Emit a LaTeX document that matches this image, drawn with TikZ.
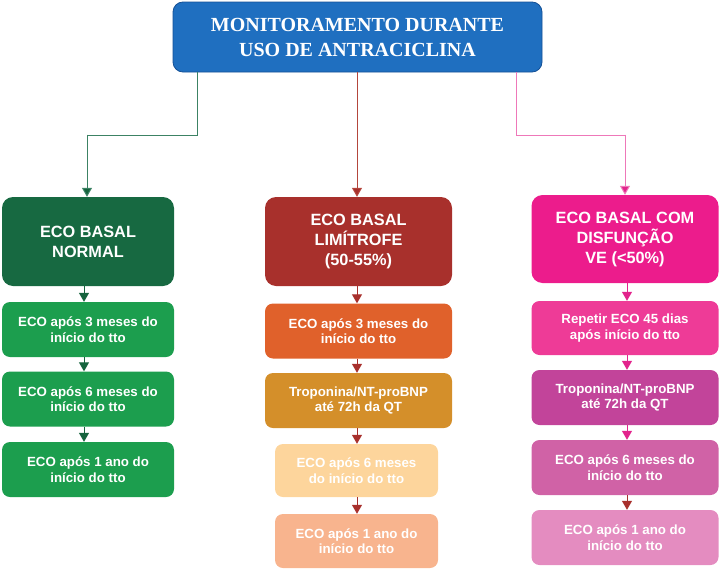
\documentclass[tikz,border=0pt]{standalone}
\usepackage{fontspec}
\setmainfont{Liberation Sans}
\newfontfamily\titlefont{Liberation Serif}
\usetikzlibrary{arrows.meta}
\definecolor{topblue}{RGB}{31,111,192}
\definecolor{topborder}{RGB}{20,80,150}
\definecolor{ghead}{RGB}{23,105,65}
\definecolor{gbox}{RGB}{28,158,78}
\definecolor{garrow}{RGB}{22,100,62}
\definecolor{gline}{RGB}{60,130,100}
\definecolor{rhead}{RGB}{168,48,44}
\definecolor{rbox1}{RGB}{224,97,43}
\definecolor{rbox2}{RGB}{212,143,42}
\definecolor{rbox3}{RGB}{253,213,156}
\definecolor{rbox4}{RGB}{248,180,142}
\definecolor{rarrow}{RGB}{168,48,44}
\definecolor{rline}{RGB}{180,70,60}
\definecolor{phead}{RGB}{236,28,140}
\definecolor{pbox1}{RGB}{238,59,151}
\definecolor{pbox2}{RGB}{194,68,154}
\definecolor{pbox3}{RGB}{208,98,166}
\definecolor{pbox4}{RGB}{228,140,192}
\definecolor{parrow}{RGB}{226,35,140}
\definecolor{pline}{RGB}{238,120,185}
\tikzset{
  x=1pt,y=-1pt,
  titlebox/.style={rounded corners=10pt, fill=topblue, draw=topborder, line width=0.8pt,
    minimum width=369pt, minimum height=70pt, align=center, text=white,
    font=\titlefont\bfseries\fontsize{20}{25}\selectfont},
  headbox/.style={rounded corners=11pt, minimum height=89pt, align=center, text=white,
    font=\bfseries\fontsize{16.3}{20}\selectfont, inner sep=0pt},
  smallbox/.style={rounded corners=8pt, minimum height=55pt, align=center, text=white,
    font=\bfseries\fontsize{13.3}{15.5}\selectfont, inner sep=0pt},
  conn/.style={line width=1pt},
  tip/.style={-{Triangle[width=10pt,length=9pt]}, line width=1pt},
}
\begin{document}
\begin{tikzpicture}
\useasboundingbox (0,0) rectangle (720,570);
% title
\node[titlebox] (top) at (357.5,37) {MONITORAMENTO DURANTE\\USO DE ANTRACICLINA};
% left column
\node[headbox, fill=ghead, minimum width=172pt] (lh) at (88,241.5) {ECO BASAL\\NORMAL};
\node[smallbox, fill=gbox, minimum width=172pt] (l1) at (88,329.5) {ECO após 3 meses do\\início do tto};
\node[smallbox, fill=gbox, minimum width=172pt] (l2) at (88,399) {ECO após 6 meses do\\início do tto};
\node[smallbox, fill=gbox, minimum width=172pt] (l3) at (88,469.5) {ECO após 1 ano do\\início do tto};
% middle column
\node[headbox, fill=rhead, minimum width=187pt] (mh) at (358.5,241.5) {ECO BASAL\\LIMÍTROFE\\(50-55\%)};
\node[smallbox, fill=rbox1, minimum width=187pt] (m1) at (358.5,331) {ECO após 3 meses do\\início do tto};
\node[smallbox, fill=rbox2, minimum width=187pt] (m2) at (358.5,400.5) {Troponina/NT-proBNP\\até 72h da QT};
\node[smallbox, fill=rbox3, minimum width=163pt, minimum height=53pt] (m3) at (356.5,470.5) {ECO após 6 meses\\do início do tto};
\node[smallbox, fill=rbox4, minimum width=163pt, minimum height=54pt] (m4) at (356.5,541) {ECO após 1 ano do\\início do tto};
% right column
\node[headbox, fill=phead, minimum width=187pt, minimum height=88pt] (rh) at (625,239) {ECO BASAL COM\\DISFUNÇÃO\\VE (<50\%)};
\node[smallbox, fill=pbox1, minimum width=187pt, minimum height=54pt] (r1) at (625,328) {Repetir ECO 45 dias\\após início do tto};
\node[smallbox, fill=pbox2, minimum width=187pt] (r2) at (625,397.5) {Troponina/NT-proBNP\\até 72h da QT};
\node[smallbox, fill=pbox3, minimum width=187pt] (r3) at (625,467.5) {ECO após 6 meses do\\início do tto};
\node[smallbox, fill=pbox4, minimum width=187pt] (r4) at (625,537.5) {ECO após 1 ano do\\início do tto};
% connectors from title
\coordinate (tl) at (197,72);
\coordinate (tr) at (516,72);
\draw[gline, conn] (tl) |- (87,135);
\draw[gline, line width=1pt, -{Triangle[width=10pt,length=9pt,fill=garrow]}] (87,134.5) -- (lh.north -| 87,0);
\draw[rline, line width=1pt, -{Triangle[width=10pt,length=9pt,fill=rarrow]}] (top.south -| 357,0) -- (mh.north -| 357,0);
\draw[pline, conn] (tr) |- (625,135);
\draw[pline, line width=1pt, -{Triangle[width=10pt,length=9pt,fill=parrow]}] (625,134.5) -- (rh.north);
% column arrows
\draw[garrow, tip] (lh.south -| 84,0) -- (l1.north -| 84,0);
\draw[garrow, tip] (l1.south -| 84,0) -- (l2.north -| 84,0);
\draw[garrow, tip] (l2.south -| 84,0) -- (l3.north -| 84,0);
\draw[rarrow, tip] (mh.south -| 357,0) -- (m1.north -| 357,0);
\draw[rarrow, tip] (m1.south -| 357,0) -- (m2.north -| 357,0);
\draw[rarrow, tip] (m2.south -| 357,0) -- (m3.north -| 357,0);
\draw[rarrow, tip] (m3.south -| 357,0) -- (m4.north -| 357,0);
\draw[parrow, tip] (rh.south -| 627,0) -- (r1.north -| 627,0);
\draw[parrow, tip] (r1.south -| 627,0) -- (r2.north -| 627,0);
\draw[parrow, tip] (r2.south -| 627,0) -- (r3.north -| 627,0);
\draw[rarrow, tip] (r3.south -| 627,0) -- (r4.north -| 627,0);
\end{tikzpicture}
\end{document}
